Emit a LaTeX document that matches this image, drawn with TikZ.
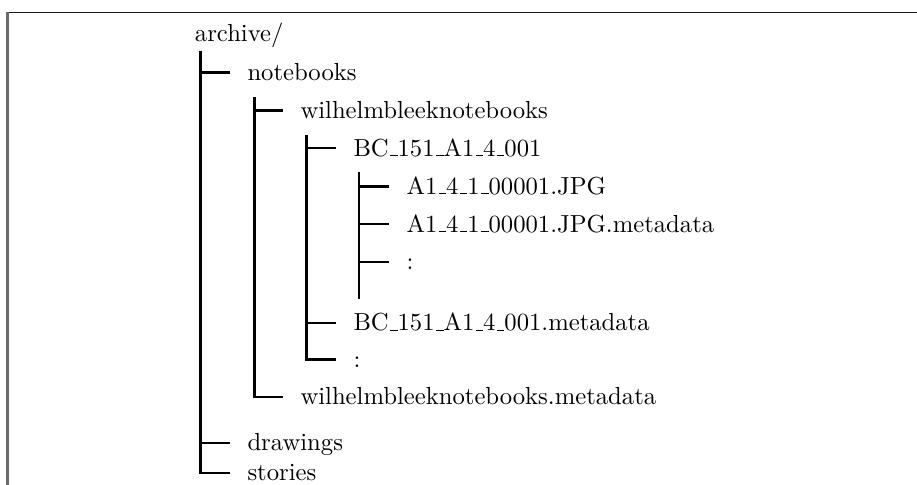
\documentclass[tikz,border=0pt]{standalone}
% low underscore rule, as in the classic \_ of OT1 fonts
\newcommand\usc{\leavevmode\kern.06em\vbox{\hrule width.3em}}
\begin{document}
\begin{tikzpicture}[x=0.4055pt,y=-0.4055pt,
  tree/.style={line width=0.95pt},
  item/.style={anchor=west, inner xsep=6.9pt, inner ysep=0pt,
               text height=6.48pt, text depth=0pt}]
\useasboundingbox (0,0) rectangle (917,485);

% frame edges
\draw[line width=0.65pt, black!90] (7.5,12.5) -- (917,12.5);
\draw[line width=0.85pt, black!58] (7.5,12.5) -- (7.5,485);

% entries (west anchor = end of the branch tick)
\node[item, inner xsep=0pt] (archive) at (194.5,33.7) {archive/};
\node[item] (notebooks) at (230,72.5)  {notebooks};
\node[item] (wbn)       at (283,110.5) {wilhelmbleeknotebooks};
\node[item] (bc)        at (336,148.3) {BC\usc151\usc A1\usc 4\usc 001};
\node[item] (jpg)       at (389,186.5) {A1\usc 4\usc 1\usc 00001.JPG};
\node[item] (jpgmeta)   at (389,224.3) {A1\usc 4\usc 1\usc 00001.JPG.metadata};
\node[item] (jpgmore)   at (389,261.7) {:};
\node[item] (bcmeta)    at (336,322.7) {BC\usc151\usc A1\usc 4\usc 001.metadata};
\node[item] (bcmore)    at (336,359.5) {:};
\node[item] (wbnmeta)   at (283,397)   {wilhelmbleeknotebooks.metadata};
\node[item] (drawings)  at (230,443)   {drawings};
\node[item] (stories)   at (230,473)   {stories};

% tops of the branch lines
\coordinate (v0) at (200.5,51);
\coordinate (v1) at (254.5,97);
\coordinate (v2) at (306.5,135);
\coordinate (v3) at (359.3,172);
\coordinate (v3end) at (359.3,299.5);

% archive/
\draw[tree] (v0) |- (notebooks.west);
\draw[tree] (v0) |- (drawings.west);
\draw[tree] (v0) |- (stories.west);
% notebooks
\draw[tree] (v1) |- (wbn.west);
\draw[tree] (v1) |- (wbnmeta.west);
% wilhelmbleeknotebooks
\draw[tree] (v2) |- (bc.west);
\draw[tree] (v2) |- (bcmeta.west);
\draw[tree] (v2) |- (bcmore.west);
% BC_151_A1_4_001
\draw[tree] (v3) -- (v3end);
\draw[tree] (v3) |- (jpg.west);
\draw[tree] (v3) |- (jpgmeta.west);
\draw[tree] (v3) |- (jpgmore.west);
\end{tikzpicture}
\end{document}
